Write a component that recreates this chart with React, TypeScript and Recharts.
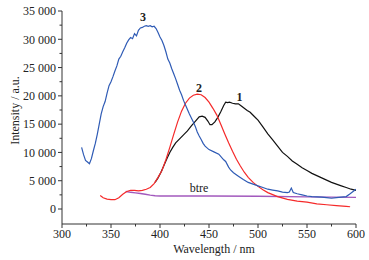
import { LineChart, Line, XAxis, YAxis, Label, ReferenceDot } from "recharts";

// spectrum 3 (blue)
const curve3 = [
  [320, 10900], [322, 9600], [324, 8600], [326, 8300], [328, 8000], [330, 8900],
  [332, 10300], [334, 11600], [336, 13200], [338, 15000], [340, 16800], [342, 18100],
  [344, 19000], [346, 20500], [348, 21800], [350, 22500], [352, 23400], [354, 24400],
  [356, 25300], [358, 26500], [360, 27000], [362, 27800], [364, 28500], [366, 29300],
  [368, 29900], [370, 30300], [372, 30100], [374, 31000], [376, 30600], [378, 31600],
  [380, 32000], [382, 32100], [384, 32300], [386, 32400], [388, 32300], [390, 32400],
  [392, 32200], [394, 32300], [396, 31900], [398, 31200], [400, 30400], [402, 29800],
  [404, 28900], [406, 27800], [408, 26500], [410, 25800], [412, 24800], [414, 23900],
  [416, 23000], [418, 22000], [420, 21000], [422, 20200], [424, 19200], [426, 18400],
  [428, 17600], [430, 16800], [432, 16100], [434, 15400], [436, 14600], [438, 13600],
  [440, 12900], [442, 12300], [444, 11600], [446, 11100], [448, 10800], [450, 10500],
  [455, 10100], [460, 9700], [465, 8700], [467, 8400], [470, 7400], [472, 6900],
  [475, 6400], [480, 5800], [485, 5200], [490, 4700], [495, 4400], [500, 4100],
  [505, 3800], [510, 3500], [515, 3350], [520, 3200], [525, 3000], [530, 2900],
  [532, 3000], [534, 3700], [536, 2900], [540, 2700], [545, 2500], [550, 2300],
  [555, 2200], [560, 2150], [565, 2100], [570, 2000], [575, 1900], [580, 2000],
  [585, 2100], [590, 2200], [594, 2700], [597, 3100], [600, 3500],
];

// spectrum 2 (red)
const curve2 = [
  [339, 2400], [342, 2000], [346, 1750], [350, 1650], [354, 1650], [358, 2000],
  [362, 2600], [366, 3100], [370, 3300], [374, 3300], [378, 3200], [382, 3300],
  [386, 3500], [390, 3800], [394, 4500], [398, 5600], [402, 6800], [406, 8700],
  [410, 10900], [414, 13200], [418, 15400], [422, 17300], [426, 18700], [430, 19600],
  [434, 20100], [438, 20300], [442, 20200], [446, 19700], [450, 18900], [454, 17800],
  [458, 16600], [462, 15000], [466, 13300], [470, 11700], [474, 10200], [478, 8800],
  [482, 7600], [486, 6500], [490, 5600], [495, 4700], [500, 4000], [505, 3400],
  [510, 2900], [520, 2200], [530, 1700], [540, 1400], [550, 1200], [560, 900],
  [570, 750], [580, 600], [590, 450], [594, 400],
];

// spectrum 1 (black)
const curve1 = [
  [395, 4700], [398, 5500], [401, 6500], [404, 7700], [407, 8900], [410, 10000],
  [413, 10900], [416, 11700], [420, 12400], [424, 13100], [428, 13800], [432, 14700],
  [436, 15500], [440, 16300], [443, 16400], [446, 16200], [449, 15500], [451, 14900],
  [453, 14900], [456, 15400], [459, 16200], [462, 17200], [465, 18300], [467, 18900],
  [469, 18800], [471, 18900], [474, 18700], [477, 18600], [480, 18600], [483, 18200],
  [486, 17800], [489, 17400], [492, 17100], [496, 16400], [500, 15700], [505, 14500],
  [510, 13300], [515, 12200], [520, 11100], [525, 10000], [530, 9300], [535, 8500],
  [540, 7900], [545, 7300], [550, 6800], [555, 6300], [560, 5900], [565, 5500],
  [570, 5100], [575, 4700], [580, 4400], [585, 4100], [590, 3800], [595, 3500],
  [600, 3300],
];

// btre baseline (purple)
const curveBtre = [
  [365, 3100], [370, 2950], [375, 2850], [380, 2750], [385, 2600], [390, 2450],
  [395, 2350], [400, 2300], [450, 2300], [500, 2250], [550, 2150], [600, 2050],
];

const xTicks = [300, 325, 350, 375, 400, 425, 450, 475, 500, 525, 550, 575, 600];
const yTicks = [
  -2500, 0, 2500, 5000, 7500, 10000, 12500, 15000, 17500, 20000, 22500, 25000, 27500,
  30000, 32500, 35000,
];

const labels = [
  { text: "3", x: 382.6, y: 33900, bold: true },
  { text: "2", x: 439.8, y: 21500, bold: true },
  { text: "1", x: 481, y: 19850, bold: true },
  { text: "btre", x: 439.8, y: 3830, bold: false },
];

const toRows = (pts: number[][]) => pts.map(([x, y]) => ({ x, y }));

const FONT = "'Liberation Serif', 'Times New Roman', serif";
const AXIS = "#333";
const textStyle = { fontFamily: FONT, fontSize: 12 };

const fmt = (v: number) => String(v).replace(/\B(?=(\d{3})+(?!\d))/g, " ");

const YTick = (props: any) => {
  const { x, y, payload } = props;
  const v = payload.value;
  const major = v % 5000 === 0;
  if (v < 0) return <g />;
  return (
    <g>
      <line x1={x - (major ? 4 : 2.5)} x2={x} y1={y} y2={y} stroke={AXIS} />
      {major && (
        <text x={x - 6} y={y} dy="0.36em" textAnchor="end" style={textStyle} fill="#222">
          {fmt(v)}
        </text>
      )}
    </g>
  );
};

const XTick = (props: any) => {
  const { x, y, payload } = props;
  const v = payload.value;
  const major = v % 50 === 0;
  return (
    <g>
      <line x1={x} x2={x} y1={y} y2={y + (major ? 4 : 2.5)} stroke={AXIS} />
      {major && (
        <text x={x} y={y + 5} dy="0.72em" textAnchor="middle" style={textStyle} fill="#222">
          {v}
        </text>
      )}
    </g>
  );
};

const App = () => {
  return (
    <div style={{ position: "absolute", left: 0, top: 0, background: "#fff" }}>
      <LineChart width={369} height={260} margin={{ top: 11, right: 13, bottom: 0, left: 0 }}>
        <XAxis
          type="number"
          dataKey="x"
          domain={[300, 600]}
          ticks={xTicks}
          interval={0}
          tickSize={0}
          tickMargin={0}
          tickLine={false}
          tick={(p: any) => <XTick {...p} />}
          axisLine={{ stroke: AXIS }}
          height={36}
          allowDataOverflow
        >
          <Label
            content={(p: any) => {
              const vb = p.viewBox;
              return (
                <text
                  x={vb.x + vb.width / 2 + 5}
                  y={vb.y + vb.height - 7}
                  textAnchor="middle"
                  style={textStyle}
                  fill="#222"
                >
                  Wavelength / nm
                </text>
              );
            }}
          />
        </XAxis>
        <YAxis
          type="number"
          domain={[-2650, 35000]}
          ticks={yTicks}
          interval={0}
          tickSize={0}
          tickMargin={0}
          tickLine={false}
          tick={(p: any) => <YTick {...p} />}
          axisLine={{ stroke: AXIS }}
          width={62}
          allowDataOverflow
        >
          <Label
            content={(p: any) => {
              const vb = p.viewBox;
              const cx = vb.x + 19;
              const cy = vb.y + vb.height / 2 - 7;
              return (
                <text
                  x={cx}
                  y={cy}
                  transform={`rotate(-90 ${cx} ${cy})`}
                  textAnchor="middle"
                  style={textStyle}
                  fill="#222"
                >
                  Intensity / a.u.
                </text>
              );
            }}
          />
        </YAxis>
        <Line data={toRows(curveBtre)} dataKey="y" stroke="#a259bd" strokeWidth={1.4} dot={false} isAnimationActive={false} />
        <Line data={toRows(curve1)} dataKey="y" stroke="#111" strokeWidth={1.2} dot={false} isAnimationActive={false} />
        <Line data={toRows(curve2)} dataKey="y" stroke="#f52a2a" strokeWidth={1.2} dot={false} isAnimationActive={false} />
        <Line data={toRows(curve3)} dataKey="y" stroke="#2f5bb5" strokeWidth={1.2} dot={false} isAnimationActive={false} />
        {labels.map((l) => (
          <ReferenceDot
            key={l.text}
            x={l.x}
            y={l.y}
            r={0}
            fill="none"
            stroke="none"
            label={{
              value: l.text,
              position: "center",
              style: { fontFamily: FONT, fontSize: 12, fontWeight: l.bold ? "bold" : "normal" },
              fill: "#222",
            }}
          />
        ))}
      </LineChart>
    </div>
  );
};

export default App;
